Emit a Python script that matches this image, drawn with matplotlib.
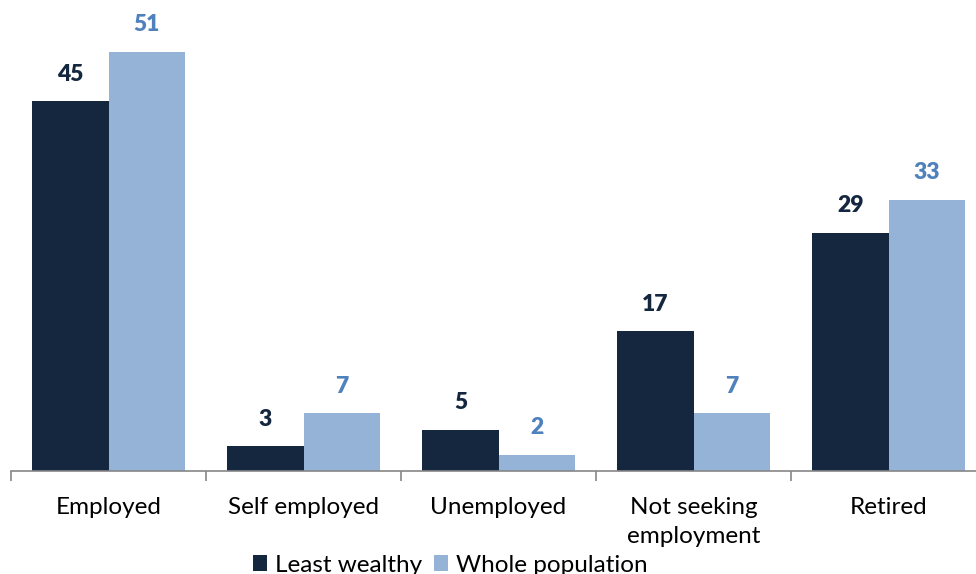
import numpy as np
import matplotlib.pyplot as plt
from matplotlib.ticker import FixedLocator

categories = ['Employed', 'Self employed', 'Unemployed', 'Not seeking\nemployment', 'Retired']
least_wealthy = [45, 3, 5, 17, 29]
whole_population = [51, 7, 2, 7, 33]

dark = '#14273F'
light = '#95B3D7'
light_text = '#4F81BD'
axis_grey = '#868686'

plt.rcParams['font.family'] = ['Lato', 'DejaVu Sans']

fig = plt.figure(figsize=(9.76, 5.74), dpi=100)
# axes placed in pixels: x from 11 to 986, baseline at y=471
ax = fig.add_axes([11 / 976, 103 / 574, 975 / 976, 452 / 574])

x = np.arange(len(categories))
w = 0.39
b1 = ax.bar(x - w / 2, least_wealthy, w, color=dark, label='Least wealthy')
b2 = ax.bar(x + w / 2, whole_population, w, color=light, label='Whole population')

for rect, v in zip(b1, least_wealthy):
    ax.text(rect.get_x() + rect.get_width() / 2, v + 2.0, str(v), ha='center', va='bottom',
            fontsize=16.5, fontweight='heavy', color=dark, clip_on=False)
for rect, v in zip(b2, whole_population):
    ax.text(rect.get_x() + rect.get_width() / 2, v + 2.0, str(v), ha='center', va='bottom',
            fontsize=16.5, fontweight='heavy', color=light_text, clip_on=False)

ax.set_xlim(-0.5, 4.5)
ax.set_ylim(0, 55)
ax.set_yticks([])
for s in ['top', 'right', 'left']:
    ax.spines[s].set_visible(False)
ax.spines['bottom'].set_color(axis_grey)
ax.spines['bottom'].set_linewidth(1.2)

ax.set_xticks(x)
ax.set_xticklabels(categories, fontsize=17.5, color='black', linespacing=1.45, va='top')
ax.tick_params(axis='x', which='major', length=0, pad=19)
ax.xaxis.set_minor_locator(FixedLocator(np.arange(-0.5, 5, 1)))
ax.tick_params(axis='x', which='minor', length=7, width=1.2, color=axis_grey, direction='out')

fig.legend(loc='center', bbox_to_anchor=(450 / 976, 9 / 574), ncol=2, frameon=False,
           fontsize=17.5, handlelength=0.6, handleheight=0.6, handletextpad=0.3,
           columnspacing=0.5, borderaxespad=0)

fig.savefig('out.png', dpi=100)
